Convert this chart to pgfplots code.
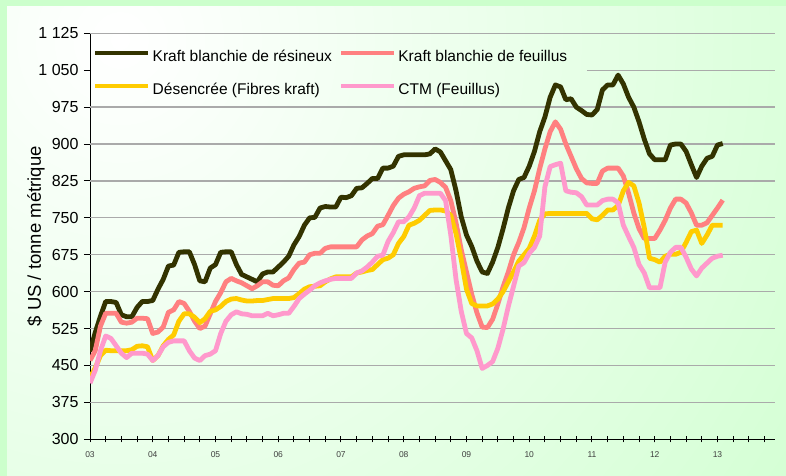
\documentclass[border=0pt]{standalone}
\usepackage{fontspec}
\setmainfont{Liberation Sans}
\usepackage{pgfplots}
\usepackage{pgfplotstable}
\pgfplotsset{compat=1.18}
\definecolor{bggreen}{RGB}{204,255,204}
\definecolor{cA}{RGB}{51,51,0}
\definecolor{cB}{RGB}{255,128,128}
\definecolor{cC}{RGB}{255,204,0}
\definecolor{cD}{RGB}{255,153,204}
\definecolor{gridc}{RGB}{170,170,170}
\pgfplotstableread{
m A B C D
0 478 460 425 414
1 517 480 445 440
2 550 530 470 480
3 580 556 481 510
4 580 556 480 505
5 578 556 480 490
6 553 538 480 475
7 549 536 480 466
8 549 538 482 475
9 568 546 489 475
10 580 546 490 475
11 580 545 488 473
12 582 515 460 460
13 605 518 470 470
14 625 528 490 488
15 652 558 503 497
16 654 563 512 500
17 680 580 540 500
18 681 576 555 500
19 681 560 555 480
20 655 540 548 465
21 622 525 537 460
22 620 530 545 470
23 648 555 560 473
24 655 580 563 480
25 680 598 570 515
26 681 620 580 540
27 681 627 585 553
28 655 622 586 559
29 635 618 583 555
30 630 612 581 554
31 625 606 581 551
32 620 612 582 551
33 636 620 582 551
34 640 620 584 556
35 640 613 586 551
36 650 612 586 553
37 660 622 586 556
38 672 628 586 556
39 695 645 588 570
40 712 658 596 586
41 735 660 605 595
42 750 675 610 603
43 751 678 611 612
44 770 678 612 618
45 773 688 620 622
46 772 691 626 625
47 772 691 630 627
48 792 691 630 627
49 791 691 630 627
50 795 691 630 627
51 810 691 638 638
52 811 705 640 642
53 820 713 643 650
54 830 718 645 660
55 830 733 655 672
56 851 736 665 674
57 851 755 668 702
58 855 775 675 720
59 875 790 698 742
60 878 798 712 742
61 878 803 735 752
62 878 810 739 770
63 878 813 745 795
64 878 815 755 800
65 880 826 765 800
66 890 828 766 800
67 884 822 766 800
68 866 812 764 785
69 848 785 755 715
70 805 740 718 625
71 752 685 665 560
72 715 640 605 515
73 692 595 576 506
74 662 557 571 480
75 640 528 571 444
76 637 527 571 450
77 660 544 575 458
78 690 575 585 485
79 728 610 600 524
80 770 640 620 570
81 805 675 640 611
82 828 700 662 652
83 832 730 675 659
84 855 770 688 678
85 885 805 713 690
86 925 850 745 713
87 955 890 758 813
88 995 925 759 854
89 1020 945 759 858
90 1016 930 759 861
91 990 900 759 805
92 992 875 759 802
93 975 850 759 801
94 968 830 759 793
95 960 821 759 776
96 959 820 748 776
97 970 820 746 776
98 1010 845 755 785
99 1020 851 766 788
100 1020 851 766 788
101 1040 851 775 780
102 1022 835 805 735
103 995 800 822 712
104 975 760 815 690
105 945 728 780 655
106 910 708 730 638
107 880 708 668 608
108 868 708 665 608
109 868 725 660 608
110 868 745 672 660
111 898 770 676 680
112 900 788 676 690
113 900 788 680 690
114 885 780 700 670
115 858 760 722 646
116 832 735 725 632
117 855 735 698 648
118 871 740 715 658
119 875 755 735 668
120 898 770 735 672
121 901 786 735 674
}\datatable
\begin{document}
\begin{tikzpicture}
\useasboundingbox (0,0) rectangle (786bp,476bp);
\fill[bggreen] (0,0) rectangle (786bp,476bp);
\begin{scope}
\clip (7bp,0) rectangle (786bp,469bp);
\shade[inner color=white, outer color=bggreen] (120bp,436bp) circle (960bp);
\end{scope}
\begin{axis}[
  at={(90bp,36.7bp)}, anchor=south west,
  scale only axis, width=685bp, height=406bp,
  xmin=0, xmax=131, ymin=300, ymax=1125,
  axis x line*=bottom, axis y line*=left,
  axis line style={black, line width=1bp},
  xtick={0,12,...,120},
  xticklabels={03,04,05,06,07,08,09,10,11,12,13},
  minor xtick={3,6,...,129},
  xtick align=center,
  ytick align=outside,
  major tick length=6bp, minor tick length=6bp,
  tick style={black, line width=1bp},
  ytick={300,375,...,1125},
  yticklabels={300,375,450,525,600,675,750,825,900,975,1 050,1 125},
  yticklabel style={font=\fontsize{16bp}{18bp}\selectfont, xshift=-2bp},
  xticklabel style={font=\fontsize{8.5bp}{10bp}\selectfont, text=black!75, yshift=-6bp},
  ylabel={\$ US / tonne métrique},
  every axis y label/.style={at={(axis description cs:0,0.5)}, rotate=90, anchor=center, yshift=54bp, font=\fontsize{18.5bp}{22bp}\selectfont},
  legend columns=2,
  legend cell align=left,
  legend style={draw=none, fill=none, at={(0,1)}, anchor=north west, xshift=3bp, yshift=-15bp,
    font=\fontsize{15.5bp}{18bp}\selectfont, inner sep=0pt, row sep=16bp,
    /tikz/every even column/.append style={column sep=5bp}},
  legend image code/.code={\draw[#1, line width=4.5bp] (0bp,4bp) -- (53bp,4bp);},
  line join=round,
]
\pgfplotsinvokeforeach{375,450,...,975}{\draw[gridc, line width=1.3bp] (axis cs:0,#1) -- (axis cs:131,#1);}
\draw[gridc, line width=1.3bp] (axis cs:0,1125) -- (axis cs:131,1125);
\draw[gridc, line width=1.3bp] (axis cs:95,1050) -- (axis cs:131,1050);
\addplot[cA, line width=4.8bp, no markers] table[x=m, y=A] {\datatable};
\addlegendentry{Kraft blanchie de résineux}
\addplot[cB, line width=4.8bp, no markers] table[x=m, y=B] {\datatable};
\addlegendentry{Kraft blanchie de feuillus}
\addplot[cC, line width=4.8bp, no markers] table[x=m, y=C] {\datatable};
\addlegendentry{Désencrée (Fibres kraft)}
\addplot[cD, line width=4.8bp, no markers] table[x=m, y=D] {\datatable};
\addlegendentry{CTM (Feuillus)}
\end{axis}
\end{tikzpicture}
\end{document}
